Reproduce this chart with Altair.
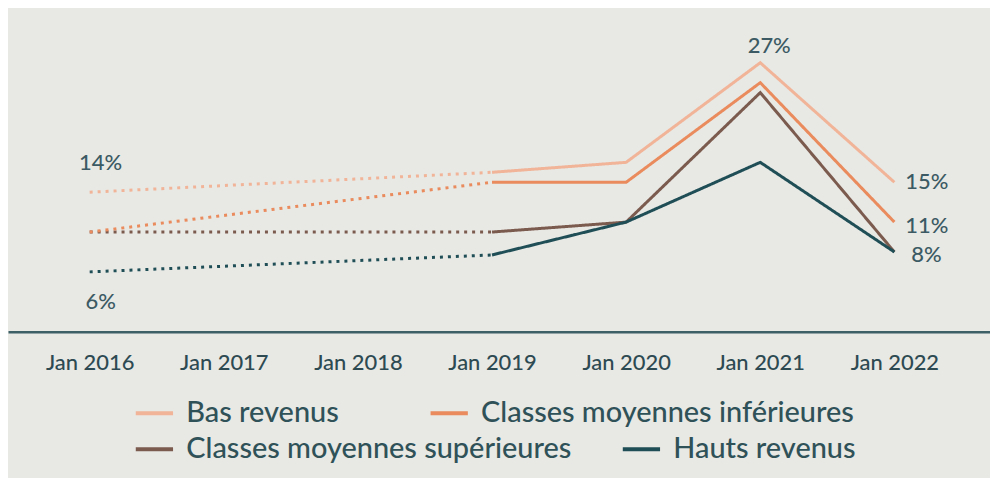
import altair as alt
import pandas as pd

# ---- data ----
series = ["Bas revenus", "Classes moyennes inférieures",
          "Classes moyennes supérieures", "Hauts revenus"]
colors = ["#f1b498", "#e98b5c", "#7c5b4f", "#1f4e56"]
years = [2016, 2019, 2020, 2021, 2022]
bas_revenus = [14, 16, 17, 27, 15]
moy_inf = [10, 15, 15, 25, 11]
moy_sup = [10, 10, 11, 24, 8]
hauts_revenus = [6, 7.7, 11, 17, 8]
tick_years = [2016, 2017, 2018, 2019, 2020, 2021, 2022]

label_series = ["Bas revenus", "Hauts revenus", "Bas revenus",
                "Bas revenus", "Classes moyennes inférieures", "Classes moyennes supérieures"]
label_years = [2016, 2016, 2021, 2022, 2022, 2022]
label_values = [14, 6, 27, 15, 11, 8]

values = dict(zip(series, [bas_revenus, moy_inf, moy_sup, hauts_revenus]))

rows = []
for s in series:
    vals = values[s]
    # projected (dotted) part: first two points
    for y, v in zip(years[:2], vals[:2]):
        rows.append({"serie": s, "annee": y, "valeur": v, "segment": "proj"})
    for y, v in zip(years[1:], vals[1:]):
        rows.append({"serie": s, "annee": y, "valeur": v, "segment": "obs"})
df = pd.DataFrame(rows)

labels = pd.DataFrame({"serie": label_series, "annee": label_years,
                       "valeur": label_values, "idx": list(range(len(label_values)))})
labels["txt"] = labels["valeur"].astype(str) + "%"

FONT = "Lato"
WEIGHT = 500
x_scale = alt.Scale(domain=[2015.391, 2022.713], nice=False, zero=False)
y_scale = alt.Scale(domain=[0, 32.4], nice=False)

x_enc = alt.X("annee:Q", scale=x_scale,
              axis=alt.Axis(values=tick_years, labelExpr="'Jan ' + datum.value",
                            title=None, ticks=False, grid=False,
                            domainColor="#3d5f66", domainWidth=2.5,
                            labelFont=FONT, labelFontSize=22, labelFontWeight=WEIGHT,
                            labelColor="#2d4a52",
                            labelPadding=21, labelFlush=False))
y_enc = alt.Y("valeur:Q", scale=y_scale, axis=None)
dash = alt.StrokeDash("segment:N", legend=None,
                      scale=alt.Scale(domain=["proj", "obs"], range=[[3, 5], [1, 0]]))


def line_layer(sub, lx, ly, colpad):
    return alt.Chart(df).transform_filter(
        alt.FieldOneOfPredicate(field="serie", oneOf=sub)
    ).mark_line(strokeWidth=3).encode(
        x=x_enc, y=y_enc,
        color=alt.Color("serie:N",
                        scale=alt.Scale(domain=sub, range=[colors[series.index(s)] for s in sub]),
                        legend=alt.Legend(orient="none", direction="horizontal", title=None,
                                          legendX=lx, legendY=ly, columnPadding=colpad,
                                          symbolType="stroke", symbolStrokeWidth=4,
                                          symbolSize=1400, labelFont=FONT, labelFontSize=29,
                                          labelFontWeight=WEIGHT,
                                          labelColor="#2f5158", labelOffset=11, padding=0,
                                          labelLimit=600)),
        strokeDash=dash,
        detail="segment:N",
        order=alt.Order("annee:Q"),
    )


lines_a = line_layer(series[:2], 126, 385, 83)
lines_b = line_layer(series[2:], 126, 421, 43)

text_specs = [  # (idx, dx, dy, align)
    (0, 11, -29, "center"),
    (1, 11, 30, "center"),
    (2, 9, -17, "center"),
    (3, 11, 0, "left"),
    (4, 11, 4, "left"),
    (5, 17, 3, "left"),
]
texts = []
for i, dx, dy, al in text_specs:
    texts.append(
        alt.Chart(labels).transform_filter(alt.datum.idx == i).mark_text(
            font=FONT, fontSize=22, fontWeight=WEIGHT, color="#3b5a63", dx=dx, dy=dy,
            align=al, baseline="middle"
        ).encode(x=alt.X("annee:Q", scale=x_scale), y=alt.Y("valeur:Q", scale=y_scale),
                 text="txt:N")
    )

chart = alt.layer(lines_b, lines_a, *texts).resolve_scale(
    color="independent"
).properties(
    width=986, height=324,
    autosize=alt.AutoSizeParams(type="none"),
    padding={"left": 0, "top": 0, "right": 0, "bottom": 146},
    background="#e8e8e4",
).configure_view(stroke=None)

chart.save("out.html", embed_options={"renderer": "svg", "actions": False})
